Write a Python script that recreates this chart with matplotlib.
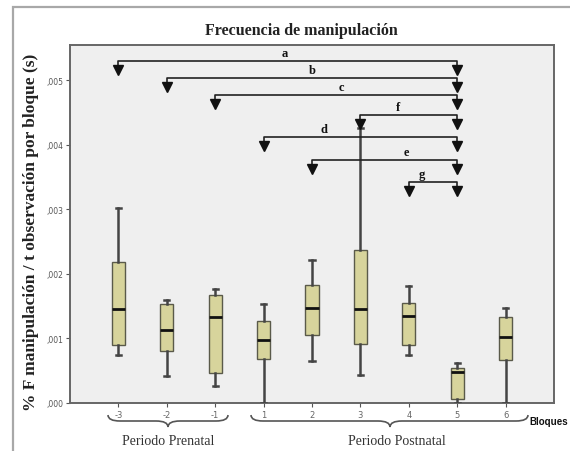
import matplotlib
matplotlib.use("Agg")
import matplotlib.pyplot as plt
from matplotlib.path import Path
from matplotlib.patches import PathPatch, Rectangle

# ---- data ----
blocks = ["-3", "-2", "-1", "1", "2", "3", "4", "5", "6"]
whislo = [0.00074, 0.00042, 0.00026, 0.0, 0.00065, 0.00043, 0.00075, 0.0, 0.0]
q1 = [0.00090, 0.00081, 0.00047, 0.00068, 0.00106, 0.00092, 0.00090, 0.00006, 0.00066]
med = [0.00146, 0.00113, 0.00133, 0.00098, 0.00148, 0.00146, 0.00135, 0.00048, 0.00102]
q3 = [0.00218, 0.00154, 0.00168, 0.00127, 0.00183, 0.00237, 0.00155, 0.00055, 0.00133]
whishi = [0.00302, 0.00160, 0.00176, 0.00153, 0.00222, 0.00427, 0.00181, 0.00062, 0.00148]
yticks = [0.0, 0.001, 0.002, 0.003, 0.004, 0.005]
ytick_labels = [",000", ",001", ",002", ",003", ",004", ",005"]

# comparisons: (label, from block index, to block index, bracket height, label position)
comp_labels = ["a", "b", "c", "f", "d", "e", "g"]
comp_from = [0, 1, 2, 5, 3, 4, 6]
comp_to = [7, 7, 7, 7, 7, 7, 7]
comp_y = [0.00530, 0.00504, 0.00477, 0.00447, 0.00413, 0.00376, 0.00343]
comp_label_x = [3.44, 4.01, 4.6, 5.78, 4.25, 5.96, 6.27]

W, H = 570, 452
fig = plt.figure(figsize=(W / 100, H / 100), dpi=100)
fig.patch.set_facecolor("white")

# outer frame
fig.add_artist(Rectangle((13 / W, -0.1), 1.2, 1 - 8 / H + 0.1, transform=fig.transFigure,
                         fill=False, edgecolor="#a8a8a8", linewidth=1.6))

ax = fig.add_axes([70 / W, 1 - 404 / H, (554 - 70) / W, (404 - 46) / H])
ax.set_facecolor("#efefef")

stats = []
for i in range(len(blocks)):
    stats.append(dict(med=med[i], q1=q1[i], q3=q3[i], whislo=whislo[i], whishi=whishi[i],
                      fliers=[], label=blocks[i]))
pos = list(range(len(blocks)))
ax.bxp(stats, positions=pos, widths=0.27, patch_artist=True, showfliers=False,
       boxprops=dict(facecolor="#d7d49c", edgecolor="#5a5a4a", linewidth=1.0),
       medianprops=dict(color="#111111", linewidth=2.0),
       whiskerprops=dict(color="#444444", linewidth=1.8),
       capprops=dict(color="#444444", linewidth=1.8), capwidths=0.11,
       zorder=3)

ax.set_xlim(-1, 9)
ax.set_ylim(0, 0.00555)
ax.set_yticks(yticks)
ax.set_yticklabels(ytick_labels, fontsize=5.5, color="#555555", family="DejaVu Sans")
ax.set_xticks(pos)
ax.set_xticklabels(blocks, fontsize=6, color="#666666")
ax.tick_params(axis="both", direction="out", length=3, width=0.8, color="#555555", pad=2)
for s in ["left", "bottom", "right", "top"]:
    ax.spines[s].set_color("#666666")
    ax.spines[s].set_linewidth(1.4)

# comparison brackets
px = 0.00555 / (404 - 46)  # one pixel in data units
for lab, a, b, y, lx in zip(comp_labels, comp_from, comp_to, comp_y, comp_label_x):
    ax.plot([a, a, b, b], [y - 6 * px, y, y, y - 6 * px], color="#222222", lw=1.2,
            solid_capstyle="butt", zorder=4, clip_on=False)
    ax.plot([a, b], [y - 9 * px, y - 9 * px], linestyle="none", marker="v",
            markersize=7, color="#111111", zorder=5, clip_on=False)
    ax.text(lx, y + 2 * px, lab, ha="center", va="bottom", fontsize=9,
            fontweight="bold", family="Liberation Serif", color="#111111")

# title & y label
fig.text(301 / W, 1 - 31 / H, "Frecuencia de manipulación", ha="center", va="center",
         fontsize=11.5, fontweight="bold", family="Liberation Serif", color="#222222")
fig.text(31 / W, 1 - 232 / H, "% F manipulación / t observación por bloque (s)",
         ha="center", va="center", rotation=90, fontsize=12.5, fontweight="bold",
         family="Liberation Serif", color="#222222")


def brace(x1, x2, xm, y0, h, color="#555555"):
    q = h / 2.0
    pts = [(x1, y0), (x1, y0 + q), (x1 + q * 2, y0 + q), (xm - q * 2, y0 + q),
           (xm, y0 + q), (xm, y0 + 2 * q), (xm, y0 + q), (xm + q * 2, y0 + q),
           (x2 - q * 2, y0 + q), (x2, y0 + q), (x2, y0)]
    codes = [Path.MOVETO, Path.CURVE3, Path.CURVE3, Path.LINETO, Path.CURVE3, Path.CURVE3,
             Path.CURVE3, Path.CURVE3, Path.LINETO, Path.CURVE3, Path.CURVE3]
    pts = [(x / W, 1 - y / H) for x, y in pts]
    fig.add_artist(PathPatch(Path(pts, codes), transform=fig.transFigure, fill=False,
                             edgecolor=color, linewidth=1.2))


brace(108, 228, 168, 416, 12)
brace(251, 528, 390, 416, 12)

fig.text(168 / W, 1 - 442 / H, "Periodo Prenatal", ha="center", va="center",
         fontsize=10, family="Liberation Serif", color="#333333")
fig.text(397 / W, 1 - 442 / H, "Periodo Postnatal", ha="center", va="center",
         fontsize=10, family="Liberation Serif", color="#333333")
fig.text(529 / W, 1 - 422 / H, "Bloques", ha="left", va="center", fontsize=7,
         fontweight="bold", family="Liberation Sans", color="#111111")

fig.savefig("out.png", dpi=100)
